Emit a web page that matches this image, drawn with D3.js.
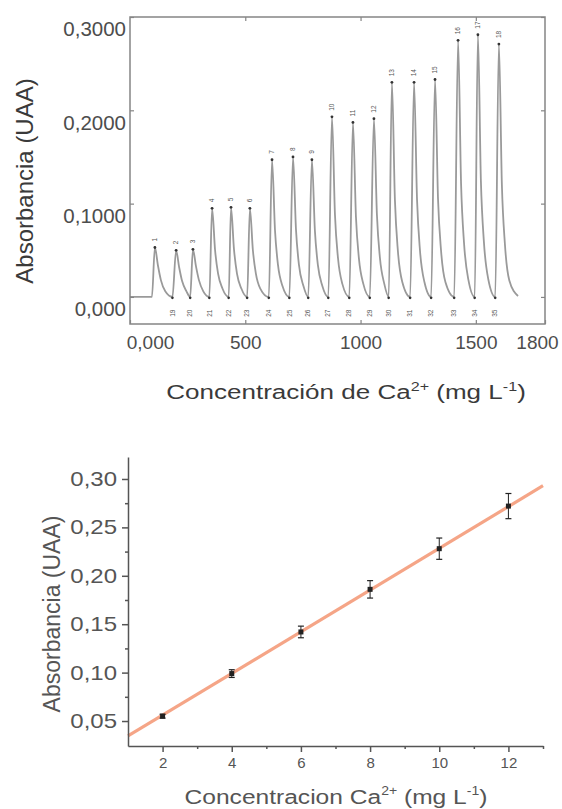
<!DOCTYPE html>
<html>
<head>
<meta charset="utf-8">
<script src="https://cdn.jsdelivr.net/npm/d3@7"></script>
<style>
body { margin: 0; background: #fff; }
text { font-family: "Liberation Sans", Arial, sans-serif; }
</style>
</head>
<body>
<div id="chart"></div>
<script>
// ---- Top chart: FIA signal, 18 injections ----
var peakConc = [108, 200, 273, 356, 438, 520, 616, 707, 789, 876, 967, 1058, 1136, 1232, 1323, 1423, 1509, 1600];
var peakAbs = [0.053, 0.050, 0.051, 0.095, 0.096, 0.095, 0.147, 0.150, 0.147, 0.193, 0.187, 0.191, 0.230, 0.230, 0.233, 0.275, 0.281, 0.271];
// read values on the falling side of each peak
var decayOffsets = [13, 26, 45];
var decay13 = [0.034, 0.032, 0.033, 0.050, 0.051, 0.050, 0.071, 0.072, 0.071, 0.088, 0.086, 0.088, 0.104, 0.104, 0.105, 0.121, 0.124, 0.120];
var decay26 = [0.018, 0.017, 0.018, 0.025, 0.025, 0.025, 0.034, 0.034, 0.034, 0.042, 0.041, 0.042, 0.049, 0.049, 0.050, 0.057, 0.059, 0.057];
var decay45 = [0.006, 0.006, 0.006, 0.009, 0.009, 0.009, 0.012, 0.012, 0.012, 0.014, 0.014, 0.014, 0.016, 0.016, 0.016, 0.018, 0.019, 0.018];
var minConc = [184, 261, 344, 428, 508, 602, 691, 773, 860, 951, 1040, 1122, 1215, 1306, 1406, 1495, 1584];
var traceStart = [[0, 0], [95, 0]];
var traceEnd = [1683, 0.001];
var topYTicks = [0, 0.1, 0.2, 0.3];
var topYLabels = ["0,000", "0,1000", "0,2000", "0,3000"];
var topXTicks = [0, 500, 1000, 1500, 1800];
var topXLabels = ["0,000", "500", "1000", "1500", "1800"];

// ---- Bottom chart: calibration curve ----
var calConc = [2, 4, 6, 8, 10, 12];
var calAbs = [0.055, 0.099, 0.142, 0.186, 0.228, 0.272];
var calErr = [0.002, 0.004, 0.006, 0.009, 0.011, 0.013];
var fitSlope = 0.02154;
var fitIntercept = 0.013;
var fitRange = [1, 13];
var botYTicks = [0.05, 0.10, 0.15, 0.20, 0.25, 0.30];
var botYLabels = ["0,05", "0,10", "0,15", "0,20", "0,25", "0,30"];
var botYMinor = [0.075, 0.125, 0.175, 0.225, 0.275];
var botXTicks = [2, 4, 6, 8, 10, 12];
var botXMinor = [3, 5, 7, 9, 11, 13];

var svg = d3.select("#chart").append("svg")
    .attr("width", 562)
    .attr("height", 809);

// ============ TOP CHART ============
var xTop = d3.scaleLinear().domain([0, 1800]).range([130, 545]);
var yTop = d3.scaleLinear().domain([-0.029, 0.3]).range([324, 17]);

var topG = svg.append("g");

// build trace points
var trace = traceStart.slice();
peakConc.forEach(function (c, i) {
    trace.push([c, peakAbs[i]]);
    trace.push([c + decayOffsets[0], decay13[i]]);
    trace.push([c + decayOffsets[1], decay26[i]]);
    trace.push([c + decayOffsets[2], decay45[i]]);
    if (i < minConc.length) trace.push([minConc[i], 0]);
});
trace.push(traceEnd);

var line = d3.line()
    .x(d => xTop(d[0]))
    .y(d => yTop(d[1]))
    .curve(d3.curveMonotoneX);

topG.append("path")
    .datum(trace)
    .attr("fill", "none")
    .attr("stroke", "#9a9a9a")
    .attr("stroke-width", 1.8)
    .attr("d", line);

// frame
topG.append("rect")
    .attr("x", xTop(0)).attr("y", yTop(0.3))
    .attr("width", xTop(1800) - xTop(0))
    .attr("height", yTop(-0.029) - yTop(0.3))
    .attr("fill", "none")
    .attr("stroke", "#858585")
    .attr("stroke-width", 1.5);

// axes
var topBottomAxis = topG.append("g")
    .attr("transform", "translate(0," + yTop(-0.029) + ")")
    .call(d3.axisBottom(xTop).tickValues(topXTicks).tickSize(-4).tickPadding(12)
        .tickFormat((d, i) => topXLabels[i]));
var topLeftAxis = topG.append("g")
    .attr("transform", "translate(" + xTop(0) + ",0)")
    .call(d3.axisLeft(yTop).tickValues(topYTicks).tickSize(-4).tickPadding(4)
        .tickFormat((d, i) => topYLabels[i]));
topG.append("g")
    .attr("transform", "translate(0," + yTop(0.3) + ")")
    .call(d3.axisTop(xTop).tickValues([500, 1000, 1500]).tickSize(-4).tickFormat(""));
topG.append("g")
    .attr("transform", "translate(" + xTop(1800) + ",0)")
    .call(d3.axisRight(yTop).tickValues(topYTicks).tickSize(-4).tickFormat(""));

topG.selectAll(".domain").remove();
topG.selectAll(".tick line").attr("stroke", "#858585").attr("stroke-width", 1.2);
topG.selectAll(".tick text")
    .attr("fill", "#4d4d4d")
    .attr("font-size", 19)
    .attr("font-family", "Liberation Sans, Arial, sans-serif");
topLeftAxis.selectAll(".tick text").attr("font-size", 20.5).attr("dy", "0.92em");
topBottomAxis.selectAll(".tick text")
    .attr("dx", (d, i) => i === 0 ? 20 : (i === topXTicks.length - 1 ? -8 : 0));

// peak markers and labels 1-18
var peaks = topG.append("g");
peakConc.forEach(function (c, i) {
    peaks.append("circle")
        .attr("cx", xTop(c)).attr("cy", yTop(peakAbs[i]))
        .attr("r", 1.4).attr("fill", "#333");
    peaks.append("text")
        .attr("transform", "translate(" + (xTop(c) + 2.2) + "," + (yTop(peakAbs[i]) - 6) + ") rotate(-90)")
        .attr("font-size", 6.5)
        .attr("fill", "#555")
        .text(i + 1);
});
// valley markers and labels 19-35
minConc.forEach(function (c, i) {
    peaks.append("circle")
        .attr("cx", xTop(c)).attr("cy", yTop(-0.001))
        .attr("r", 1.3).attr("fill", "#333");
    peaks.append("text")
        .attr("transform", "translate(" + (xTop(c) + 2.2) + "," + (yTop(-0.001) + 19) + ") rotate(-90)")
        .attr("font-size", 6.5)
        .attr("fill", "#555")
        .text(peakConc.length + i + 1);
});

// axis titles
var tx = topG.append("text")
    .attr("transform", "translate(346,399) scale(1.24,1)")
    .attr("text-anchor", "middle")
    .attr("font-size", 21)
    .attr("fill", "#3a3a3a");
tx.append("tspan").text("Concentración de Ca");
tx.append("tspan").attr("dy", -8).attr("font-size", 13).text("2+");
tx.append("tspan").attr("dy", 8).text(" (mg L");
tx.append("tspan").attr("dy", -8).attr("font-size", 13).text("-1");
tx.append("tspan").attr("dy", 8).text(")");

topG.append("text")
    .attr("transform", "translate(33,181) rotate(-90)")
    .attr("text-anchor", "middle")
    .attr("font-size", 24)
    .attr("fill", "#3a3a3a")
    .text("Absorbancia (UAA)");

// ============ BOTTOM CHART ============
var xBot = d3.scaleLinear().domain([1, 13]).range([128, 543]);
var yBot = d3.scaleLinear().domain([0.0242, 0.3227]).range([746, 457]);

var bot = svg.append("g");

// fit line
bot.append("line")
    .attr("x1", xBot(fitRange[0])).attr("y1", yBot(fitSlope * fitRange[0] + fitIntercept))
    .attr("x2", xBot(fitRange[1])).attr("y2", yBot(fitSlope * fitRange[1] + fitIntercept))
    .attr("stroke", "#f5a587")
    .attr("stroke-width", 3.2);

// error bars + points
var pts = bot.selectAll(".pt")
    .data(calConc)
    .enter()
    .append("g");
pts.append("line")
    .attr("x1", d => xBot(d)).attr("x2", d => xBot(d))
    .attr("y1", (d, i) => yBot(calAbs[i] - calErr[i]))
    .attr("y2", (d, i) => yBot(calAbs[i] + calErr[i]))
    .attr("stroke", "#222").attr("stroke-width", 1);
pts.append("line")
    .attr("x1", d => xBot(d) - 3).attr("x2", d => xBot(d) + 3)
    .attr("y1", (d, i) => yBot(calAbs[i] + calErr[i]))
    .attr("y2", (d, i) => yBot(calAbs[i] + calErr[i]))
    .attr("stroke", "#222").attr("stroke-width", 1.2);
pts.append("line")
    .attr("x1", d => xBot(d) - 3).attr("x2", d => xBot(d) + 3)
    .attr("y1", (d, i) => yBot(calAbs[i] - calErr[i]))
    .attr("y2", (d, i) => yBot(calAbs[i] - calErr[i]))
    .attr("stroke", "#222").attr("stroke-width", 1.2);
pts.append("rect")
    .attr("x", d => xBot(d) - 2.5)
    .attr("y", (d, i) => yBot(calAbs[i]) - 2.5)
    .attr("width", 5).attr("height", 5)
    .attr("fill", "#222");

// axes
var botLeft = bot.append("g")
    .attr("transform", "translate(" + xBot(1) + ",0)")
    .call(d3.axisLeft(yBot).tickValues(botYTicks).tickSize(6).tickSizeOuter(0).tickPadding(5)
        .tickFormat((d, i) => botYLabels[i]));
bot.append("g")
    .attr("transform", "translate(" + xBot(1) + ",0)")
    .call(d3.axisLeft(yBot).tickValues(botYMinor).tickSize(3).tickFormat(""))
    .select(".domain").remove();
var botBottom = bot.append("g")
    .attr("transform", "translate(0," + yBot(0.0242) + ")")
    .call(d3.axisBottom(xBot).tickValues(botXTicks).tickSize(6).tickSizeOuter(0).tickPadding(5));
bot.append("g")
    .attr("transform", "translate(0," + yBot(0.0242) + ")")
    .call(d3.axisBottom(xBot).tickValues(botXMinor).tickSize(3).tickFormat(""))
    .select(".domain").remove();

bot.selectAll(".domain").attr("stroke", "#555").attr("stroke-width", 1.5);
bot.selectAll(".tick line").attr("stroke", "#555").attr("stroke-width", 1.5);
bot.selectAll(".tick text").attr("fill", "#555").attr("font-family", "Liberation Sans, Arial, sans-serif");
// y labels in the picture are drawn a bit wider than the font
botLeft.selectAll(".tick text")
    .attr("font-size", 20)
    .attr("x", -11 / 1.2)
    .attr("transform", "scale(1.2,1)");
botBottom.selectAll(".tick text").attr("font-size", 15);

var bx = bot.append("text")
    .attr("transform", "translate(336,804) scale(1.17,1)")
    .attr("text-anchor", "middle")
    .attr("font-size", 21)
    .attr("fill", "#555");
bx.append("tspan").text("Concentracion Ca");
bx.append("tspan").attr("dy", -9).attr("font-size", 12).text("2+");
bx.append("tspan").attr("dy", 9).text(" (mg L");
bx.append("tspan").attr("dy", -9).attr("font-size", 12).text("-1");
bx.append("tspan").attr("dy", 9).text(")");

bot.append("text")
    .attr("transform", "translate(60,614) rotate(-90)")
    .attr("text-anchor", "middle")
    .attr("font-size", 23)
    .attr("fill", "#555")
    .text("Absorbancia (UAA)");
</script>
</body>
</html>
